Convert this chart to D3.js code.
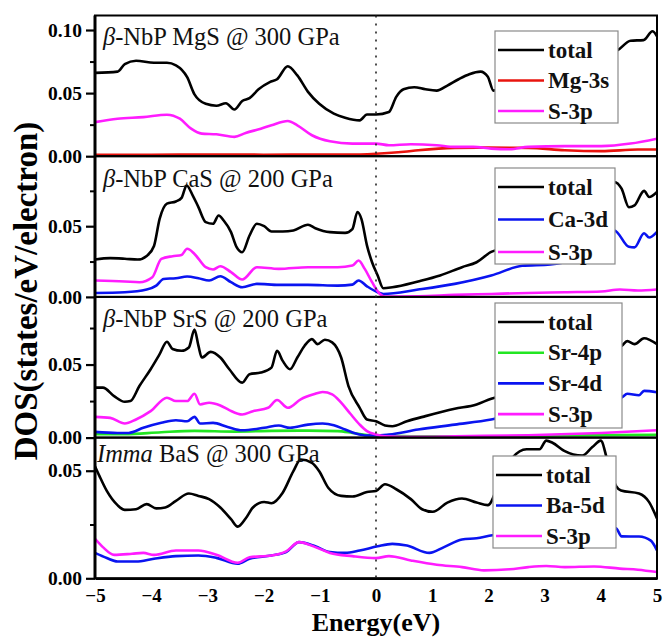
<!DOCTYPE html>
<html>
<head>
<meta charset="utf-8">
<script src="https://cdn.jsdelivr.net/npm/d3@7/dist/d3.min.js"></script>
<style>
  html, body { margin: 0; padding: 0; background: #fff; }
  svg { display: block; font-family: "Liberation Serif", "Times New Roman", serif; }
</style>
</head>
<body>
<svg id="chart" width="663" height="638"></svg>
<script>
// ---------------- DATA ----------------
const xTickValues = [-5, -4, -3, -2, -1, 0, 1, 2, 3, 4, 5];
const yMajorTicks = [0, 0.05, 0.10];
const yMinorTicks = [0.025, 0.075];

const panelTitles = ["β-NbP MgS @ 300 GPa", "β-NbP CaS @ 200 GPa", "β-NbP SrS @ 200 GPa", "Imma BaS @ 300 GPa"];

// Panel 1: beta-NbP MgS @ 300 GPa
const mgsTotal = [[-5,.066],[-4.6,.067],[-4.47,.073],[-4.27,.0757],[-3.95,.074],[-3.72,.074],[-3.56,.072],[-3.36,.0626],[-3.23,.049],[-3.03,.0415],[-2.84,.040],[-2.67,.042],[-2.52,.037],[-2.38,.0437],[-2.25,.046],[-2.09,.053],[-1.89,.0587],[-1.76,.061],[-1.57,.0713],[-1.40,.064],[-1.21,.051],[-1.01,.0415],[-0.75,.0337],[-0.55,.0305],[-0.29,.0284],[-0.16,.0331],[0,.033],[0.23,.035],[0.36,.047],[0.49,.053],[0.68,.0547],[0.88,.053],[1.08,.052],[1.27,.056],[1.47,.061],[1.66,.065],[1.86,.067],[1.99,.063],[2.09,.052],[2.5,.062],[3.0,.070],[3.5,.076],[4.0,.080],[4.3,.084],[4.53,.0915],[4.76,.092],[4.92,.099],[5,.095]];
const mgsMg3s = [[-5,.0012],[-4,.0012],[-3,.0013],[-2,.0012],[-1,.0013],[-0.5,.0013],[0,.002],[0.5,.0035],[0.75,.0047],[1.4,.0066],[1.99,.0068],[2.71,.0066],[3.36,.0047],[4.01,.004],[4.66,.0053],[5,.0053]];
const mgsS3p = [[-5,.027],[-4.6,.0297],[-4.14,.031],[-3.72,.0329],[-3.49,.0297],[-3.29,.0218],[-3.10,.0179],[-2.84,.0174],[-2.52,.0153],[-2.32,.0184],[-2.05,.0218],[-1.86,.0245],[-1.57,.0279],[-1.40,.0245],[-1.14,.0166],[-0.82,.0118],[-0.42,.010],[0,.010],[0.23,.0087],[0.62,.0095],[1.08,.0087],[1.40,.0074],[1.73,.0074],[2.05,.006],[2.38,.0055],[2.71,.0074],[3.36,.008],[4.01,.008],[4.53,.010],[5,.0139]];

// Panel 2: beta-NbP CaS @ 200 GPa
const casTotal = [[-5,.0264],[-4.73,.0274],[-4.47,.027],[-4.24,.0264],[-4.08,.029],[-3.95,.036],[-3.85,.0552],[-3.72,.066],[-3.56,.0675],[-3.46,.070],[-3.37,.0788],[-3.26,.0717],[-3.16,.0635],[-3.03,.0529],[-2.90,.0517],[-2.80,.0576],[-2.71,.054],[-2.58,.0458],[-2.48,.0352],[-2.38,.0316],[-2.25,.0434],[-2.12,.0517],[-1.99,.050],[-1.86,.0463],[-1.66,.0463],[-1.47,.047],[-1.21,.051],[-1.08,.0486],[-0.82,.0458],[-0.55,.0453],[-0.42,.048],[-0.33,.060],[-0.26,.0552],[-0.16,.0363],[-0.07,.0245],[0.03,.0151],[0.13,.0061],[0.29,.0068],[0.75,.0109],[1.14,.0151],[1.53,.021],[1.79,.0245],[2.05,.0318],[2.5,.036],[3.0,.045],[3.5,.055],[4.0,.070],[4.24,.0813],[4.37,.0765],[4.5,.0634],[4.6,.0647],[4.77,.075],[4.86,.0707],[5,.0743]];
const casCa3d = [[-5,.0028],[-4.47,.0033],[-4.08,.0052],[-3.91,.008],[-3.78,.0127],[-3.56,.0132],[-3.36,.0144],[-3.16,.0132],[-2.97,.0116],[-2.77,.0146],[-2.58,.0104],[-2.38,.0068],[-2.12,.0092],[-1.73,.0085],[-1.21,.0085],[-0.68,.008],[-0.42,.0087],[-0.31,.0116],[-0.16,.0075],[0.03,.0033],[0.13,.0021],[0.75,.0052],[1.40,.0092],[2.05,.0151],[2.6,.022],[3.1,.023],[3.5,.026],[4.0,.035],[4.24,.047],[4.5,.0354],[4.6,.035],[4.77,.045],[4.86,.042],[5,.046]];
const casS3p = [[-5,.0116],[-4.47,.0109],[-4.21,.0104],[-3.98,.0139],[-3.82,.0269],[-3.62,.0288],[-3.46,.0297],[-3.36,.034],[-3.23,.0304],[-3.03,.021],[-2.90,.0194],[-2.77,.0217],[-2.58,.0175],[-2.38,.0123],[-2.12,.021],[-1.73,.0198],[-1.21,.021],[-0.68,.021],[-0.42,.0222],[-0.31,.0257],[-0.20,.0198],[-0.07,.0104],[0.07,.0021],[0.16,.0002],[0.75,.0005],[1.40,.0014],[2.05,.0021],[2.71,.0028],[3.36,.0033],[4.01,.0038],[4.34,.0052],[4.66,.0045],[5,.0052]];

// Panel 3: beta-NbP SrS @ 200 GPa
const srsTotal = [[-5,.0342],[-4.86,.0342],[-4.66,.0284],[-4.47,.0245],[-4.37,.025],[-4.21,.0353],[-4.01,.0468],[-3.85,.0571],[-3.72,.0656],[-3.62,.0606],[-3.46,.0594],[-3.33,.0617],[-3.23,.0739],[-3.16,.0629],[-3.10,.0548],[-2.94,.0587],[-2.77,.0548],[-2.61,.0468],[-2.38,.0376],[-2.25,.0434],[-2.05,.0445],[-1.86,.0479],[-1.76,.0594],[-1.66,.0525],[-1.53,.0468],[-1.40,.0548],[-1.27,.0629],[-1.14,.0674],[-1.04,.064],[-0.91,.067],[-0.78,.0652],[-0.62,.0548],[-0.49,.0353],[-0.29,.0204],[-0.16,.0124],[0,.0112],[0.16,.0083],[0.29,.0078],[0.55,.0112],[0.88,.0147],[1.40,.0197],[1.79,.0227],[2.05,.0266],[2.5,.031],[3.0,.038],[3.5,.047],[4.0,.056],[4.38,.063],[4.47,.066],[4.6,.064],[4.77,.068],[5,.064]];
const srsSr4p = [[-5,.0023],[-4.47,.0023],[-3.82,.0037],[-3.23,.0046],[-2.51,.0041],[-1.86,.0046],[-1.21,.0048],[-0.68,.0044],[-0.42,.0032],[-0.16,.0018],[0.10,.0014],[0.75,.0009],[2.05,.0009],[3.36,.0014],[5,.002]];
const srsSr4d = [[-5,.0039],[-4.60,.0032],[-4.40,.0032],[-4.14,.0067],[-3.82,.0101],[-3.56,.0119],[-3.36,.0112],[-3.23,.0142],[-3.13,.0096],[-2.90,.0101],[-2.64,.0073],[-2.38,.005],[-1.99,.0067],[-1.73,.0083],[-1.53,.0067],[-1.21,.0089],[-0.95,.0096],[-0.75,.0085],[-0.55,.0055],[-0.36,.0028],[-0.16,.0014],[0,.0014],[0.23,.0021],[0.75,.0055],[1.40,.0089],[2.05,.0124],[2.5,.016],[3.0,.019],[3.5,.022],[4.0,.025],[4.37,.0275],[4.47,.030],[4.68,.029],[4.77,.032],[5,.031]];
const srsS3p = [[-5,.0142],[-4.73,.0135],[-4.47,.0096],[-4.27,.0124],[-4.01,.0181],[-3.72,.0273],[-3.56,.025],[-3.36,.025],[-3.23,.030],[-3.13,.0227],[-2.97,.0239],[-2.77,.022],[-2.61,.0188],[-2.38,.0158],[-2.19,.0181],[-1.92,.0204],[-1.76,.0257],[-1.57,.0204],[-1.34,.0262],[-1.11,.0296],[-0.95,.0312],[-0.78,.0296],[-0.62,.0239],[-0.46,.0165],[-0.29,.0089],[-0.16,.0044],[0,.0021],[0.16,.0009],[0.75,.0005],[1.40,.0009],[2.71,.0016],[4.01,.0032],[5,.005]];

// Panel 4: Imma BaS @ 300 GPa
const basTotal = [[-5,.0521],[-4.92,.0475],[-4.79,.0406],[-4.60,.034],[-4.47,.0318],[-4.27,.0321],[-4.08,.0345],[-3.91,.0325],[-3.75,.0329],[-3.56,.036],[-3.33,.0394],[-3.16,.0383],[-2.97,.0368],[-2.77,.0329],[-2.58,.0275],[-2.46,.024],[-2.32,.0278],[-2.19,.0329],[-1.99,.0355],[-1.86,.0349],[-1.66,.0398],[-1.47,.0498],[-1.34,.0552],[-1.14,.0537],[-1.01,.0498],[-0.85,.0421],[-0.62,.0383],[-0.42,.038],[-0.16,.0401],[0,.0406],[0.16,.0437],[0.36,.0414],[0.62,.0368],[0.82,.0321],[1.01,.0309],[1.27,.0352],[1.53,.0371],[1.79,.0352],[1.99,.034],[2.2,.045],[2.43,.0561],[2.68,.060],[2.91,.060],[3.03,.064],[3.14,.063],[3.35,.0592],[3.67,.057],[3.85,.061],[4.0,.064],[4.12,.0546],[4.27,.043],[4.36,.0408],[4.68,.0394],[4.86,.0354],[5,.0278]];
const basBa5d = [[-5,.0118],[-4.79,.0094],[-4.60,.0078],[-4.27,.0078],[-3.95,.0091],[-3.56,.0103],[-3.16,.0106],[-2.84,.0095],[-2.46,.0068],[-2.25,.0091],[-1.86,.0106],[-1.60,.0122],[-1.37,.0168],[-1.08,.0149],[-0.82,.0122],[-0.55,.0118],[-0.29,.0129],[0.03,.0149],[0.29,.016],[0.55,.0152],[0.95,.0118],[1.21,.0145],[1.53,.018],[1.79,.0186],[2.07,.020],[2.6,.021],[3.2,.022],[3.8,.023],[4.27,.0232],[4.37,.0195],[4.68,.0194],[4.89,.0175],[5,.013]];
const basS3p = [[-5,.0183],[-4.86,.0145],[-4.66,.0109],[-4.34,.0114],[-4.14,.0118],[-3.95,.0109],[-3.56,.0129],[-3.16,.0129],[-2.84,.0109],[-2.46,.0072],[-2.25,.0098],[-1.86,.0106],[-1.60,.0125],[-1.37,.0168],[-1.08,.0145],[-0.82,.0118],[-0.42,.0103],[0,.0094],[0.23,.0103],[0.62,.0083],[1.08,.0063],[1.53,.0052],[1.92,.0037],[2.38,.0042],[2.71,.0052],[3.03,.0057],[3.36,.0052],[3.88,.0055],[4.34,.0045],[4.66,.004],[5,.0029]];

const panelSeries = [
  [{name:"total", color:"#000000", data:mgsTotal},
   {name:"Mg-3s", color:"#e8140e", data:mgsMg3s},
   {name:"S-3p", color:"#ff1cff", data:mgsS3p}],
  [{name:"total", color:"#000000", data:casTotal},
   {name:"Ca-3d", color:"#0a14f0", data:casCa3d},
   {name:"S-3p", color:"#ff1cff", data:casS3p}],
  [{name:"total", color:"#000000", data:srsTotal},
   {name:"Sr-4p", color:"#22e622", data:srsSr4p},
   {name:"Sr-4d", color:"#0a14f0", data:srsSr4d},
   {name:"S-3p", color:"#ff1cff", data:srsS3p}],
  [{name:"total", color:"#000000", data:basTotal},
   {name:"Ba-5d", color:"#0a14f0", data:basBa5d},
   {name:"S-3p", color:"#ff1cff", data:basS3p}]
];
// draw order (back to front) per panel
const drawOrder = [[1,2,0],[1,2,0],[1,2,3,0],[1,2,0]];

// ---------------- LAYOUT ----------------
const svg = d3.select("#chart");
const left = 95, right = 657;
const panelTop = [15.5, 156.2, 296.9, 437.6];
const panelH = 140.7;
const yMax = [0.1115, 0.0995, 0.0963, 0.0654];
const legendBox = [
  {x:495, y:31, w:123, h:92, step:30.5},
  {x:495, y:168, w:120, h:96, step:32.5},
  {x:495, y:303, w:127, h:125, step:30.7},
  {x:493, y:456, w:123, h:92, step:30.5}
];
const titlePos = [{x:103, y:45}, {x:103, y:187}, {x:103, y:327}, {x:97, y:462}];

const x = d3.scaleLinear().domain([-5, 5]).range([left, right]);

svg.append("defs").selectAll("clipPath").data(panelTop).join("clipPath")
  .attr("id", (d, i) => "clip" + i)
  .append("rect").attr("x", left).attr("y", d => d).attr("width", right - left).attr("height", panelH);

panelTop.forEach((top, i) => {
  const y = d3.scaleLinear().domain([0, yMax[i]]).range([top + panelH, top]);
  const g = svg.append("g");

  // curves
  const line = d3.line().x(d => x(d[0])).y(d => y(d[1])).curve(d3.curveMonotoneX);
  const cg = g.append("g").attr("clip-path", `url(#clip${i})`);
  drawOrder[i].forEach(k => {
    const s = panelSeries[i][k];
    cg.append("path").datum(s.data)
      .attr("d", line).attr("fill", "none")
      .attr("stroke", s.color).attr("stroke-width", 2.6)
      .attr("stroke-linejoin", "round");
  });

  // y axis major
  const ticks = yMajorTicks.filter(t => t <= yMax[i] + 1e-9);
  const ax = g.append("g").attr("transform", `translate(${left},0)`)
    .call(d3.axisLeft(y).tickValues(ticks).tickSize(9).tickPadding(4).tickFormat(d3.format(".2f")));
  ax.select(".domain").remove();
  ax.selectAll("line").attr("stroke", "#000").attr("stroke-width", 2.2);
  ax.selectAll("text").attr("font-family", "Liberation Serif, Times New Roman, serif")
    .attr("font-weight", "bold").attr("font-size", 19.5).attr("fill", "#000");
  const minors = yMinorTicks.filter(t => t <= yMax[i] + 1e-9);
  const axm = g.append("g").attr("transform", `translate(${left},0)`)
    .call(d3.axisLeft(y).tickValues(minors).tickSize(5).tickFormat(""));
  axm.select(".domain").remove();
  axm.selectAll("line").attr("stroke", "#000").attr("stroke-width", 2);

  // frame
  g.append("rect").attr("x", left).attr("y", top).attr("width", right - left).attr("height", panelH)
    .attr("fill", "none").attr("stroke", "#000").attr("stroke-width", 2);

  // title
  const tt = g.append("text").attr("x", titlePos[i].x).attr("y", titlePos[i].y)
    .attr("font-family", "Liberation Serif, Times New Roman, serif")
    .attr("font-size", 24.5).attr("fill", "#111");
  if (i < 3) {
    const parts = panelTitles[i].split("-");
    tt.append("tspan").attr("font-style", "italic").text(parts[0]);
    tt.append("tspan").text("-" + parts.slice(1).join("-"));
  } else {
    const sp = panelTitles[i].indexOf(" ");
    tt.append("tspan").attr("font-style", "italic").text(panelTitles[i].slice(0, sp));
    tt.append("tspan").text(panelTitles[i].slice(sp));
  }

  // legend
  const lb = legendBox[i];
  const lg = g.append("g");
  lg.append("rect").attr("x", lb.x).attr("y", lb.y).attr("width", lb.w).attr("height", lb.h)
    .attr("fill", "#fff").attr("stroke", "#8a8a8a").attr("stroke-width", 1.2);
  panelSeries[i].forEach((s, k) => {
    const ly = lb.y + 19 + lb.step * k;
    lg.append("line").attr("x1", lb.x + 3).attr("x2", lb.x + 49).attr("y1", ly).attr("y2", ly)
      .attr("stroke", s.color).attr("stroke-width", 2.6);
    lg.append("text").attr("x", lb.x + 53).attr("y", ly + 7.5)
      .attr("font-family", "Liberation Serif, Times New Roman, serif")
      .attr("font-weight", "bold").attr("font-size", 23).attr("fill", "#111").text(s.name);
  });
});

// dotted Fermi line
svg.append("line").attr("x1", x(0)).attr("x2", x(0))
  .attr("y1", panelTop[0]).attr("y2", panelTop[3] + panelH)
  .attr("stroke", "#222").attr("stroke-width", 1.6).attr("stroke-dasharray", "2,6");

// thick left axis
svg.append("line").attr("x1", left).attr("x2", left)
  .attr("y1", panelTop[0]).attr("y2", panelTop[3] + panelH)
  .attr("stroke", "#000").attr("stroke-width", 3);

// x axis
const bottom = panelTop[3] + panelH;
const xa = svg.append("g").attr("transform", `translate(0,${bottom})`)
  .call(d3.axisBottom(x).tickValues(xTickValues).tickSize(0).tickPadding(10).tickFormat(d3.format("d")));
xa.select(".domain").attr("stroke", "#000").attr("stroke-width", 2.5);
xa.selectAll("text").attr("font-family", "Liberation Serif, Times New Roman, serif")
  .attr("font-weight", "bold").attr("font-size", 19).attr("fill", "#000");

// axis titles
svg.append("text").attr("x", x(0)).attr("y", 631).attr("text-anchor", "middle")
  .attr("font-family", "Liberation Serif, Times New Roman, serif")
  .attr("font-weight", "bold").attr("font-size", 26).attr("fill", "#000").text("Energy(eV)");
svg.append("text").attr("transform", "translate(37,291) rotate(-90)").attr("text-anchor", "middle")
  .attr("font-family", "Liberation Serif, Times New Roman, serif")
  .attr("font-weight", "bold").attr("font-size", 33).attr("fill", "#000").text("DOS(states/eV/electron)");
</script>
</body>
</html>
